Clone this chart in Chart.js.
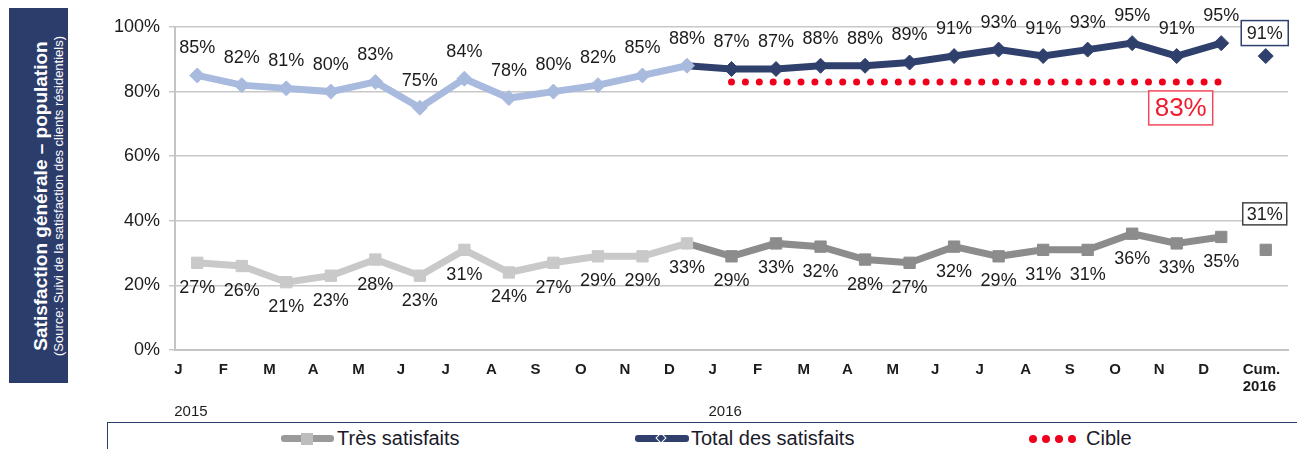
<!DOCTYPE html>
<html>
<head>
<meta charset="utf-8">
<script src="https://cdn.jsdelivr.net/npm/chart.js@4/dist/chart.umd.min.js"></script>
<style>
    body { margin: 0; background: #fff; width: 1297px; height: 449px; overflow: hidden; position: relative; font-family: "Liberation Sans", Arial, sans-serif; }
    #panel { position: absolute; left: 9px; top: 8px; width: 59px; height: 375px; background: #2d3d6b; }
    #panel .txt { position: absolute; left: 50%; top: 50%; width: 370px; transform: translate(-50%, -50%) translateX(9px) rotate(-90deg); text-align: center; color: #fff; }
    #panel .t1 { font-weight: bold; font-size: 19px; line-height: 20px; }
    #panel .t2 { font-size: 13px; line-height: 15px; }
    #chartWrap { position: absolute; left: 0; top: 0; width: 1297px; height: 420px; }
    #legend { position: absolute; left: 107px; top: 422px; width: 1200px; height: 40px; border: 1px solid #2d3d6b; box-sizing: border-box; }
    .item { position: absolute; top: 4px; font-size: 20px; color: #1a1a2a; white-space: nowrap; line-height: 22px; }
    .mark { position: absolute; top: 8px; height: 7px; border-radius: 3px; }
    .sq { position: absolute; top: 5px; width: 12px; height: 12px; }
    .dia { position: absolute; top: 7px; width: 6px; height: 6px; border: 1.5px solid #fff; transform: rotate(45deg); }
    .dot { position: absolute; top: 8px; width: 8px; height: 8px; border-radius: 50%; background: #f0001c; }
</style>
</head>
<body>
<div id="panel">
    <div class="txt">
        <div class="t1">Satisfaction générale – population</div>
        <div class="t2">(Source: Suivi de la satisfaction des clients résidentiels)</div>
    </div>
</div>
<div id="chartWrap"><canvas id="satChart" width="1297" height="420"></canvas></div>
<div id="legend">
    <div class="mark" style="left:173px; width:53px; background:#9a9a9a; top:12px;"></div>
    <div class="sq" style="left:193px; top:10px; background:#bdbdbd;"></div>
    <div class="item" style="left:229px;">Très satisfaits</div>
    <div class="mark" style="left:527px; width:54px; background:#2f406d; top:12px;"></div>
    <div class="dia" style="left:549px; top:11px;"></div>
    <div class="item" style="left:583px;">Total des satisfaits</div>
    <div class="dot" style="left:921px; top:12px;"></div>
    <div class="dot" style="left:934px; top:12px;"></div>
    <div class="dot" style="left:947px; top:12px;"></div>
    <div class="dot" style="left:960px; top:12px;"></div>
    <div class="item" style="left:978px;">Cible</div>
</div>

<script>
// Data
const months = ['J', 'F', 'M', 'A', 'M', 'J', 'J', 'A', 'S', 'O', 'N', 'D'];
const cumLabel = ['Cum.', '2016'];
const years = ['2015', '2016'];

const tres2015 = [27, 26, 21, 23, 28, 23, 31, 24, 27, 29, 29, 33];
const tres2016 = [29, 33, 32, 28, 27, 32, 29, 31, 31, 36, 33, 35];
const tresCumul = 31;

const total2015 = [85, 82, 81, 80, 83, 75, 84, 78, 80, 82, 85, 88];
const total2016 = [87, 87, 88, 88, 89, 91, 93, 91, 93, 95, 91, 95];
const totalCumul = 91;

const cible = 83;

const NAVY = '#2f406d';
const LIGHT_BLUE = '#a8bade';
const LIGHT_GRAY = '#c9c9c9';
const DARK_GRAY = '#8c8c8c';
const RED = '#f0001c';

const labels = [...months, ...months, cumLabel];
const n2015 = months.length;
const nMonths = n2015 * 2;

const totalData = [...total2015, ...total2016, null];
const tresData = [...tres2015, ...tres2016, null];
const totalCumData = labels.map((l, i) => i === nMonths ? totalCumul : null);
const tresCumData = labels.map((l, i) => i === nMonths ? tresCumul : null);
const cibleData = labels.map((l, i) => (i >= n2015 && i < nMonths) ? cible : null);

const byYear = (a, b) => labels.map((l, i) => i < n2015 ? a : b);

// value labels, cumul boxes, target box and year labels
const annotations = {
    id: 'annotations',
    afterDatasetsDraw(chart) {
        const ctx = chart.ctx;
        const x = chart.scales.x;
        const y = chart.scales.y;
        ctx.save();
        ctx.textAlign = 'center';
        ctx.textBaseline = 'middle';
        ctx.fillStyle = '#1c1c1c';
        ctx.font = '18px "Liberation Sans", Arial, sans-serif';
        for (let i = 0; i < nMonths; i++) {
            const px = x.getPixelForValue(i);
            ctx.fillText(totalData[i] + '%', px, y.getPixelForValue(totalData[i]) - 27);
            ctx.fillText(tresData[i] + '%', px, y.getPixelForValue(tresData[i]) + 25);
        }

        // boxed cumulative values
        const box = (text, cx, cy, w, h, border, color, font) => {
            ctx.fillStyle = '#fff';
            ctx.fillRect(cx - w / 2, cy - h / 2, w, h);
            ctx.strokeStyle = border;
            ctx.lineWidth = 1.5;
            ctx.strokeRect(cx - w / 2, cy - h / 2, w, h);
            ctx.fillStyle = color;
            ctx.font = font;
            ctx.fillText(text, cx, cy + 1);
        };
        const cx = x.getPixelForValue(nMonths);
        box(totalCumul + '%', cx - 1, y.getPixelForValue(totalCumul) - 23, 47, 25, NAVY, '#1c1c1c', '18px "Liberation Sans", Arial, sans-serif');
        box(tresCumul + '%', cx - 1, y.getPixelForValue(tresCumul) - 36, 44, 22, '#444', '#1c1c1c', '18px "Liberation Sans", Arial, sans-serif');
        box(cible + '%', x.getPixelForValue(nMonths - 2) + 4, y.getPixelForValue(cible) + 26, 64, 34, '#f04a5a', '#ee1c2e', '26px "Liberation Sans", Arial, sans-serif');

        // year labels under the months
        ctx.textAlign = 'left';
        ctx.fillStyle = '#1c1c1c';
        ctx.font = '15px "Liberation Sans", Arial, sans-serif';
        years.forEach((yr, k) => {
            ctx.fillText(yr, x.getPixelForValue(k * n2015) - 23, 412);
        });
        ctx.restore();
    }
};

new Chart(document.getElementById('satChart'), {
    type: 'line',
    data: {
        labels: labels,
        datasets: [
            {
                label: 'Cible',
                data: cibleData,
                borderColor: RED,
                borderWidth: 7,
                borderDash: [0, 13.9],
                borderCapStyle: 'round',
                pointRadius: 0,
                fill: false
            },
            {
                label: 'Très satisfaits',
                data: tresData,
                borderWidth: 7,
                segment: { borderColor: c => c.p0DataIndex >= n2015 - 1 ? DARK_GRAY : LIGHT_GRAY },
                pointStyle: 'rect',
                pointRadius: 8,
                pointBorderWidth: 1,
                pointBackgroundColor: byYear(LIGHT_GRAY, DARK_GRAY),
                pointBorderColor: byYear(LIGHT_GRAY, DARK_GRAY),
                tension: 0
            },
            {
                label: 'Très satisfaits cumul',
                data: tresCumData,
                pointStyle: 'rect',
                pointRadius: 8,
                pointBorderWidth: 1,
                pointBackgroundColor: DARK_GRAY,
                pointBorderColor: DARK_GRAY,
                showLine: false
            },
            {
                label: 'Total des satisfaits',
                data: totalData,
                borderWidth: 7,
                segment: { borderColor: c => c.p0DataIndex >= n2015 - 1 ? NAVY : LIGHT_BLUE },
                pointStyle: 'rectRot',
                pointRadius: 7.5,
                pointBorderWidth: 1,
                pointBackgroundColor: byYear(LIGHT_BLUE, NAVY),
                pointBorderColor: byYear(LIGHT_BLUE, NAVY),
                tension: 0
            },
            {
                label: 'Total des satisfaits cumul',
                data: totalCumData,
                pointStyle: 'rectRot',
                pointRadius: 7.5,
                pointBorderWidth: 1,
                pointBackgroundColor: NAVY,
                pointBorderColor: NAVY,
                showLine: false
            }
        ]
    },
    options: {
        responsive: false,
        animation: false,
        events: [],
        layout: { padding: { top: 27, right: 3, left: 0, bottom: 0 } },
        plugins: {
            legend: { display: false },
            tooltip: { enabled: false }
        },
        scales: {
            x: {
                offset: true,
                afterFit: s => { s.height = 70; s.paddingLeft = 0; s.paddingRight = 0; },
                grid: { display: false },
                border: { display: true, color: '#c4c4c4', width: 2 },
                ticks: {
                    autoSkip: false,
                    maxRotation: 0,
                    align: 'start',
                    labelOffset: -23,
                    padding: 3,
                    color: '#1c1c1c',
                    font: { size: 15, weight: 'bold', family: '"Liberation Sans", Arial, sans-serif', lineHeight: 1.15 }
                }
            },
            y: {
                min: 0,
                max: 100,
                afterFit: s => { s.width = 175; },
                grid: { color: '#c8c8c8', lineWidth: 1.5, tickLength: 6 },
                border: { color: '#c4c4c4', width: 2 },
                ticks: {
                    stepSize: 20,
                    padding: 9,
                    color: '#1c1c1c',
                    font: { size: 18, family: '"Liberation Sans", Arial, sans-serif' },
                    callback: v => v + '%'
                }
            }
        }
    },
    plugins: [annotations]
});
</script>
</body>
</html>
